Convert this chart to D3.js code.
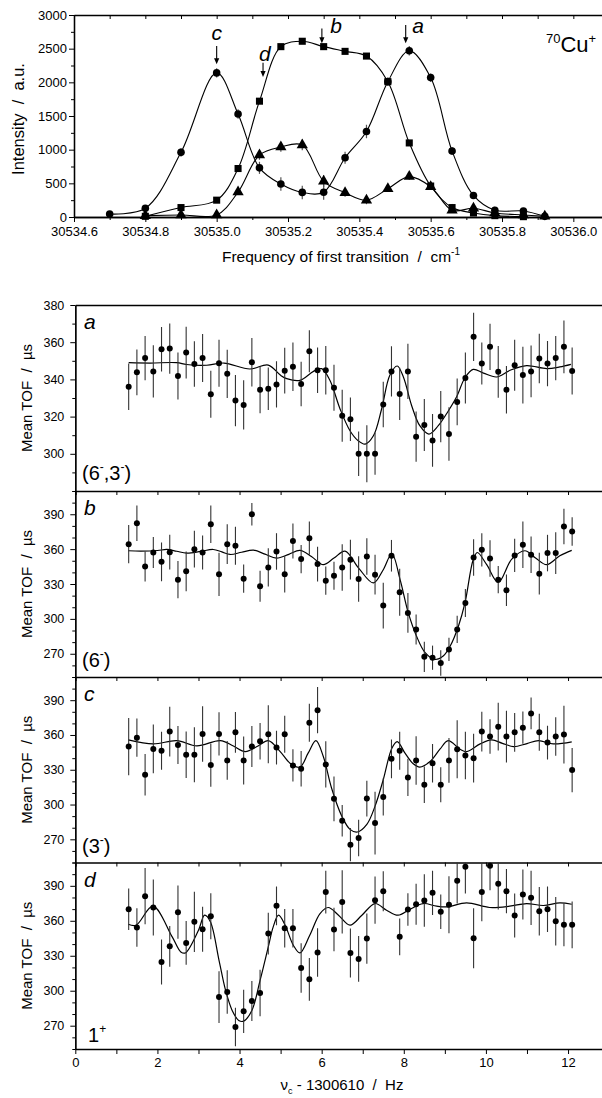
<!DOCTYPE html>
<html><head><meta charset="utf-8">
<script src="https://cdn.jsdelivr.net/npm/d3@7/dist/d3.min.js"></script>
<style>
body{margin:0;background:#fff}
svg{display:block}
text{font-family:"Liberation Sans",Arial,sans-serif;fill:#000;white-space:pre}
</style>
</head><body>
<svg id="chart" width="602" height="1098"></svg>
<script>
// ---------- Top panel data (intensity vs. frequency of first transition) ----------
const topTickLabels = [30534.6,30534.8,30535.0,30535.2,30535.4,30535.6,30535.8,30536.0];
const topMinorTicks = [30534.7,30534.9,30535.1,30535.3,30535.5,30535.7,30535.9];
const intensityTicks = [0,500,1000,1500,2000,2500,3000];

const circX = [30534.7,30534.8,30534.9,30535.0,30535.06,30535.12,30535.18,30535.24,30535.30,30535.36,30535.42,30535.48,30535.54,30535.60,30535.66,30535.72,30535.78,30535.86,30535.92];
const circY = [45,130,960,2140,1530,730,490,365,368,880,1270,2010,2470,2070,980,320,100,90,10];
const circErr = [20,30,60,70,70,90,100,100,110,90,100,60,70,60,60,40,30,30,10];

const squareX = [30534.8,30534.9,30535.0,30535.06,30535.12,30535.18,30535.24,30535.30,30535.36,30535.42,30535.48,30535.54,30535.60,30535.66,30535.72,30535.78,30535.86];
const squareY = [10,140,250,720,1720,2530,2610,2530,2460,2390,2010,1100,460,140,60,20,5];

const triX = [30534.8,30534.9,30535.0,30535.06,30535.12,30535.18,30535.24,30535.30,30535.36,30535.42,30535.48,30535.54,30535.60,30535.66,30535.72,30535.78,30535.86,30535.92];
const triY = [20,30,30,370,920,1040,1070,530,360,250,420,600,450,100,130,60,30,10];
const triErr = [10,10,10,40,70,70,80,90,60,60,50,50,40,30,30,20,10,10];

// ---------- Lower panels: mean TOF vs. nu_c - 1300610 Hz ----------
const hzTickLabels = [0,2,4,6,8,10,12];
const hzTicks = [0,1,2,3,4,5,6,7,8,9,10,11,12,13];
const tofX = [1.3,1.5,1.7,1.9,2.1,2.3,2.5,2.7,2.9,3.1,3.3,3.5,3.7,3.9,4.1,4.3,4.5,4.7,4.9,5.1,5.3,5.5,5.7,5.9,6.1,6.3,6.5,6.7,6.9,7.1,7.3,7.5,7.7,7.9,8.1,8.3,8.5,8.7,8.9,9.1,9.3,9.5,9.7,9.9,10.1,10.3,10.5,10.7,10.9,11.1,11.3,11.5,11.7,11.9,12.1];

const aTicks = [300,320,340,360,380];
const aTOF = [336,343.8,351.5,344.3,356.2,356.6,341.8,354.4,348.3,351.5,332,348.7,343,328.6,326.3,349.2,334.4,335,337.3,344.7,346.8,337.5,355.1,344.9,344.9,335.5,320.5,318.6,300,300,300,326.5,344.3,332.2,344.3,309.2,315.5,307.2,320,310.6,327.9,340.7,362.9,348.6,357.5,344.1,334.4,347.6,342.3,344.3,351.2,348.5,351.5,357.5,344.5];
const aErr = [12.5,12.3,11.9,14,12,13.5,12.6,13.9,12.2,12.9,12.6,12.6,13,13.8,13.3,13,12.6,11.4,12.4,12.3,13,12,11.3,12.2,13,12.4,14,11.7,12,15.3,11.3,12.2,13.5,14,14.9,13.5,14,14.2,13.8,14.4,12.6,13.7,13,11.3,12.4,13.9,12.8,13.7,15.3,13.9,13.3,12.2,11.9,14.2,12.6];
const aFitX = [1.3,1.82,2.47,2.71,3.2,3.62,4.25,4.7,5.0,5.15,5.47,5.8,6.0,6.2,6.45,6.69,6.89,7.06,7.26,7.46,7.66,7.84,7.99,8.19,8.39,8.61,8.84,9.08,9.29,9.49,9.69,9.94,10.26,10.59,10.99,11.48,11.8,12.07];
const aFitY = [349,348.8,349,348,347.6,348.8,345.6,347.7,342.2,340.4,339.5,344.3,345.8,339.5,324,312.4,307,305.2,309.7,324.1,342.2,347.2,341.3,326,315.1,310.6,315.1,322.9,330.8,340.9,345.4,343.4,341.3,344.9,347.4,345.8,346.7,348.1];

const bcdTicks = [270,300,330,360,390];
const bTOF = [364.3,382.3,345.1,357.1,349.1,357.4,333.7,340.9,360,357.1,381.4,338.3,364.3,362.9,334.6,390,328,344.3,358,338.3,367,351.4,369.4,347.1,332.9,337.1,344.3,350.9,334.3,353.7,338,311.4,354.3,322.9,305.1,290.9,267.4,266.6,262,273.7,290.9,313.7,352.9,359.4,352,333.7,324.6,354.6,363.7,355.1,338.9,356.6,356.6,379.4,375.1];
const bErr = [16.4,15.3,12.9,13.3,16.7,15,16,17.1,15.7,14.6,16.1,18.6,17.1,16.4,12.1,9.6,13.3,16.4,15.7,15.7,15,12.1,14.3,15,12.1,12.1,20,17.1,19.6,15.7,17.1,19.7,13.6,20.3,17.1,12.9,13,10.4,11,10,11.7,12,15.7,14.3,15.7,11.7,13.6,14.3,20,15.7,17.9,15.7,17.9,15.3,12.3];
const bFitX = [1.29,1.6,2.0,2.23,2.47,2.71,3.05,3.36,3.57,3.77,4.05,4.34,4.62,4.9,5.2,5.47,5.75,6.04,6.3,6.57,6.9,7.26,7.5,7.71,7.91,8.11,8.31,8.52,8.76,8.96,9.13,9.33,9.49,9.69,9.79,10.02,10.3,10.63,10.95,11.2,11.48,11.8,12.09];
const bFitY = [358.6,358.3,358.8,359.7,358.2,356.6,358,359.7,357.6,355.4,357.3,359.1,355.7,352.3,355.5,358.9,353.7,346.6,352.3,358.3,343.7,330.9,342.3,356,333.7,305.1,285.1,270.9,265.1,268,276.6,293.7,313.7,350.9,357.1,346.6,331.4,351.4,358.6,352.6,346.6,354.3,358.9];

const cTOF = [350,357.7,325.7,348,346.3,362.9,351.4,342.9,342.9,360.9,334,360.9,338,362.3,338,350,354.6,360.6,349.1,360.6,333.7,330.9,370.6,381.4,334.6,304.9,286,265.4,271.1,305.1,284,306.6,339.4,346.3,323.4,338,317.1,335.7,317.1,338,347.7,342.3,340,362.9,358.6,367.1,358.6,362.3,366.3,378.6,362.3,353.4,358.6,360.3,329.7];
const cErr = [24.7,16.4,17.9,21,16.4,21.4,16.4,20,23.7,23.9,18.6,18.6,16.7,17.6,20.7,17.7,15.7,25,14.6,16,13.9,15.3,16.4,20,20,19.3,13.6,14.3,15.7,15.4,27,16.1,16.7,16.4,16,21,15.7,16.6,15.1,19.3,25,20.4,21.1,17.1,14.9,20.6,22.3,16.7,13.9,13.7,16,14.6,16.6,24.9,19];
const cFitX = [1.29,1.9,2.47,2.96,3.53,3.85,4.14,4.45,4.7,4.99,5.23,5.47,5.67,5.86,6.04,6.24,6.49,6.69,6.87,7.1,7.3,7.5,7.71,7.84,8.03,8.23,8.39,8.64,8.88,9.08,9.37,9.53,9.86,10.14,10.4,10.67,11.0,11.28,11.64,12.09];
const cFitY = [355.7,352.3,355.1,350.6,355.1,350.5,345.7,350.5,355.1,345.7,335.7,332.3,344.3,355.1,341.4,314.3,290,278.6,276.3,282.9,298.6,321.4,348.6,354.3,344.3,335.1,332.3,337.1,347.7,355.1,347.7,345.7,352.3,355.7,352.8,350,352.6,355.1,352.3,354];

const dTOF = [369.9,354.2,381.1,371.4,324.7,338.1,367.4,341,359.1,352.8,363.9,294.6,298.9,268.8,282.3,291.2,298,349,372.8,353.6,353.6,319.5,309.8,332.7,384.6,352.5,376.2,332.4,327.3,344.7,377.7,385.4,null,346.2,369.7,374.2,377.4,384,367.7,373.7,394.3,406.3,345,384.6,407.2,391.7,385.4,364.5,382.6,379.7,368.2,369.9,359.6,356.5,356.5];
const dErr = [17.9,16.5,24.1,24.1,19.3,17.5,22.9,18.8,25.8,19.3,19.8,22.2,18.6,16.5,18.6,17.2,20,17.9,16.6,16.5,16.5,21.2,18.3,20.8,18.3,18.6,27.2,21,19.6,21.5,20.3,17.2,null,15.8,14,17.5,22.6,19,14.8,24.4,19.5,23,25.8,25,21,22,19,18.9,21.5,23.3,20.8,19.6,20.8,18.3,20];
const dFitX = [1.29,1.48,1.89,2.36,2.57,2.68,3.0,3.15,3.29,3.5,3.66,3.82,3.98,4.1,4.3,4.5,4.7,4.82,4.95,5.11,5.31,5.47,5.71,5.96,6.16,6.41,6.69,6.98,7.3,7.58,7.86,8.14,8.47,8.8,9.05,9.53,10.09,10.58,10.99,11.4,11.8,12.09];
const dFitY = [357,356.2,372.5,346.2,333.3,332.4,351.9,364.8,359.1,326.1,300.3,283.1,274.5,273.9,283.1,308.9,337.6,354.8,364.8,356.2,339,332.4,347.6,366.2,371.4,364.8,356.2,364.8,374.8,369.1,364.8,369.7,374.8,372.5,371.9,375.4,371.4,372.5,374.8,373.1,375.4,374.2];

// ---------- drawing ----------
const FONT = '"Liberation Sans", Arial, sans-serif';
const svg = d3.select("#chart");
svg.append("rect").attr("width",602).attr("height",1098).attr("fill","#fff");

function styleAxis(g, fs){
  g.attr("font-family", FONT).attr("font-size", fs);
  g.selectAll("path.domain").attr("stroke","#000").attr("stroke-width",1.3);
  g.selectAll(".tick line").attr("stroke","#000").attr("stroke-width",1);
  g.selectAll(".tick text").attr("fill","#000");
}

// ===== Top panel =====
const tx = d3.scaleLinear().domain([30534.6, 30536.1]).range([74, 609]);
const ty = d3.scaleLinear().domain([0, 3000]).range([217, 15]);

styleAxis(svg.append("g").attr("transform","translate(0,217)")
  .call(d3.axisBottom(tx).tickValues(topTickLabels).tickSize(5).tickSizeOuter(0).tickPadding(5).tickFormat(d3.format(".1f"))), 13);
styleAxis(svg.append("g").attr("transform","translate(0,217)")
  .call(d3.axisBottom(tx).tickValues(topMinorTicks).tickSize(3).tickSizeOuter(0).tickFormat("")), 12);
styleAxis(svg.append("g").attr("transform","translate(0,15)")
  .call(d3.axisBottom(tx).tickValues(topTickLabels.concat(topMinorTicks)).tickSize(4).tickSizeOuter(0).tickFormat("")), 12);
styleAxis(svg.append("g").attr("transform","translate(74,0)")
  .call(d3.axisLeft(ty).tickValues(intensityTicks).tickSize(5).tickSizeOuter(0).tickPadding(2).tickFormat(d3.format("d"))), 13);
styleAxis(svg.append("g").attr("transform","translate(74,0)")
  .call(d3.axisLeft(ty).tickValues([250,750,1250,1750,2250,2750]).tickSize(3).tickSizeOuter(0).tickFormat("")), 12);

const topLine = d3.line().x(d=>tx(d[0])).y(d=>ty(d[1])).curve(d3.curveCatmullRom.alpha(0.5));
const zip = (a,b)=>a.map((v,i)=>[v,b[i]]);
[[circX,circY],[squareX,squareY],[triX,triY]].forEach(([X,Y])=>{
  svg.append("path").attr("d", topLine(zip(X,Y))).attr("fill","none").attr("stroke","#000").attr("stroke-width",1.1);
});
const eb = svg.append("g").attr("stroke","#555").attr("stroke-width",1.2);
circX.forEach((x,i)=>eb.append("line").attr("x1",tx(x)).attr("x2",tx(x)).attr("y1",ty(circY[i]-circErr[i])).attr("y2",ty(circY[i]+circErr[i])));
triX.forEach((x,i)=>eb.append("line").attr("x1",tx(x)).attr("x2",tx(x)).attr("y1",ty(triY[i]-triErr[i])).attr("y2",ty(triY[i]+triErr[i])));
const sq = d3.symbol(d3.symbolSquare, 50), tr = d3.symbol(d3.symbolTriangle, 55);
squareX.forEach((x,i)=>svg.append("path").attr("d",sq()).attr("transform",`translate(${tx(x)},${ty(squareY[i])})`).attr("fill","#000"));
triX.forEach((x,i)=>svg.append("path").attr("d",tr()).attr("transform",`translate(${tx(x)},${ty(triY[i])})`).attr("fill","#000"));
circX.forEach((x,i)=>svg.append("circle").attr("cx",tx(x)).attr("cy",ty(circY[i])).attr("r",3.8).attr("fill","#000"));

const marks = [
  {t:"c", lx:30535.0, ly:2630, ax:30535.0, a0:2540, a1:2270},
  {t:"d", lx:30535.135, ly:2310, ax:30535.13, a0:2290, a1:2080},
  {t:"b", lx:30535.335, ly:2735, ax:30535.295, a0:2800, a1:2580},
  {t:"a", lx:30535.565, ly:2735, ax:30535.53, a0:2850, a1:2580}
];
marks.forEach(m=>{
  svg.append("text").attr("x",tx(m.lx)).attr("y",ty(m.ly)).attr("text-anchor","middle")
    .attr("font-size",21).attr("font-style","italic").text(m.t);
  const x = tx(m.ax), y0 = ty(m.a0), y1 = ty(m.a1);
  svg.append("line").attr("x1",x).attr("x2",x).attr("y1",y0).attr("y2",y1-5).attr("stroke","#000").attr("stroke-width",1.1);
  svg.append("path").attr("d",`M${x-2.6},${y1-6}L${x+2.6},${y1-6}L${x},${y1}Z`).attr("fill","#000");
});
const cu = svg.append("text").attr("x",546).attr("y",52).attr("font-size",22);
cu.append("tspan").attr("font-size",13).attr("dy",-9).text("70");
cu.append("tspan").attr("dy",9).text("Cu");
cu.append("tspan").attr("font-size",13).attr("dy",-9).text("+");

const xt = svg.append("text").attr("x",341).attr("y",262).attr("text-anchor","middle").attr("font-size",15.5);
xt.append("tspan").text("Frequency of first transition  /  cm");
xt.append("tspan").attr("font-size",10).attr("dy",-7).text("-1");
svg.append("text").attr("transform","translate(24,119) rotate(-90)").attr("text-anchor","middle").attr("font-size",16.5)
  .text("Intensity  /  a.u.");

// ===== Lower panels =====
const xb = d3.scaleLinear().domain([0, 13]).range([75.3, 609.1]);
const panels = [
  {key:"a", y0:305, y1:491, dom:[280,380], ticks:aTicks, tof:aTOF, err:aErr, fx:aFitX, fy:aFitY, state:[["(6",0],["-",1],[",3",0],["-",1],[")",0]], stateY:480},
  {key:"b", y0:491, y1:677, dom:[250,410], ticks:bcdTicks, tof:bTOF, err:bErr, fx:bFitX, fy:bFitY, state:[["(6",0],["-",1],[")",0]], stateY:667},
  {key:"c", y0:677, y1:862.5, dom:[250,410], ticks:bcdTicks, tof:cTOF, err:cErr, fx:cFitX, fy:cFitY, state:[["(3",0],["-",1],[")",0]], stateY:853},
  {key:"d", y0:862.5, y1:1049, dom:[250,410], ticks:bcdTicks, tof:dTOF, err:dErr, fx:dFitX, fy:dFitY, state:[["1",0],["+",1]], stateY:1042}
];

panels.forEach((p, pi)=>{
  const y = d3.scaleLinear().domain(p.dom).range([p.y1, p.y0]);
  const clipId = "clip"+p.key;
  svg.append("clipPath").attr("id",clipId).append("rect")
    .attr("x",75.3).attr("y",p.y0).attr("width",602-75.3).attr("height",p.y1-p.y0);

  const minor = d3.range(p.dom[0], p.dom[1]+1, 10).filter(v=>!p.ticks.includes(v));
  styleAxis(svg.append("g").attr("transform","translate(75.3,0)")
    .call(d3.axisLeft(y).tickValues(p.ticks).tickSize(5).tickSizeOuter(0).tickPadding(6)), 12.5);
  styleAxis(svg.append("g").attr("transform","translate(75.3,0)")
    .call(d3.axisLeft(y).tickValues(minor).tickSize(3).tickSizeOuter(0).tickFormat("")), 12);

  const topAx = d3.axisBottom(xb).tickSizeOuter(0).tickFormat("");
  if (pi === 0) topAx.tickValues([]); else topAx.tickValues(hzTicks).tickSize(4);
  styleAxis(svg.append("g").attr("transform",`translate(0,${p.y0})`).call(topAx), 12);

  const line = d3.line().x(d=>xb(d[0])).y(d=>y(d[1])).curve(d3.curveCatmullRom.alpha(0.5));
  svg.append("path").attr("clip-path",`url(#${clipId})`).attr("d", line(zip(p.fx,p.fy)))
    .attr("fill","none").attr("stroke","#000").attr("stroke-width",1.2);

  const g = svg.append("g").attr("clip-path",`url(#${clipId})`);
  tofX.forEach((x,i)=>{
    const v = p.tof[i]; if (v == null) return;
    g.append("line").attr("x1",xb(x)).attr("x2",xb(x))
      .attr("y1",y(v - p.err[i])).attr("y2",y(v + p.err[i]))
      .attr("stroke","#333").attr("stroke-width",1.1);
  });
  tofX.forEach((x,i)=>{
    const v = p.tof[i]; if (v == null) return;
    svg.append("circle").attr("cx",xb(x)).attr("cy",y(v)).attr("r",3).attr("fill","#000");
  });

  svg.append("text").attr("x",84).attr("y",p.y0+24).attr("font-size",21).attr("font-style","italic").text(p.key);
  const st = svg.append("text").attr("x", p.key==="d" ? 88 : 82).attr("y",p.stateY).attr("font-size",20);
  let up = 0;
  p.state.forEach(([s,sup])=>{
    const t = st.append("tspan").text(s);
    if (sup && !up){ t.attr("dy",-9).attr("font-size",12); up=1; }
    else if (!sup && up){ t.attr("dy",9); up=0; }
  });

  svg.append("text").attr("transform",`translate(32,${(p.y0+p.y1)/2}) rotate(-90)`)
    .attr("text-anchor","middle").attr("font-size",15).text("Mean TOF  /  \u00b5s");

  if (p.key === "d"){
    styleAxis(svg.append("g").attr("transform",`translate(0,${p.y1})`)
      .call(d3.axisBottom(xb).tickValues(hzTicks).tickSize(5).tickSizeOuter(0).tickPadding(4)
        .tickFormat(d=>hzTickLabels.includes(d)?String(d):"")), 13);
  }
});

const bt = svg.append("text").attr("x",342).attr("y",1090).attr("text-anchor","middle").attr("font-size",15);
bt.append("tspan").text("\u03bd");
bt.append("tspan").attr("font-size",9).attr("dy",4).text("c");
bt.append("tspan").attr("dy",-4).text(" - 1300610  /  Hz");
</script>
</body></html>
